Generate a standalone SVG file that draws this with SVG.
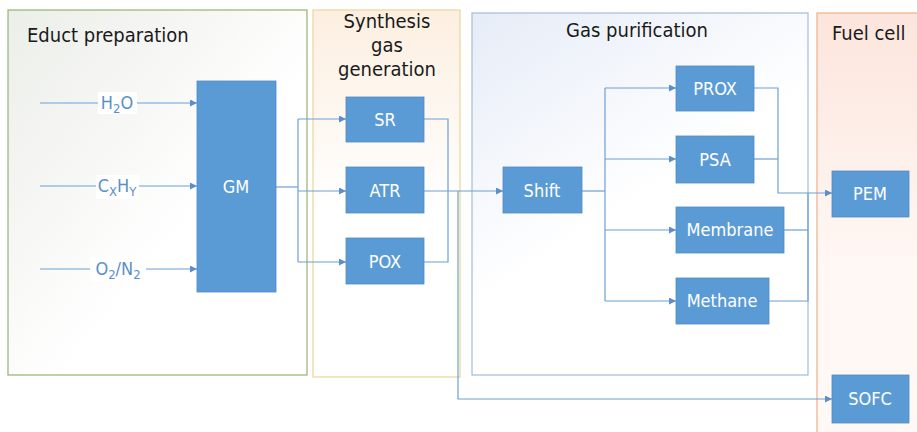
<svg xmlns="http://www.w3.org/2000/svg" width="917" height="432" viewBox="0 0 917 432">
  <defs>
    <linearGradient id="gEduct" x1="0" y1="0" x2="1" y2="1">
      <stop offset="0" stop-color="#eceee9"/>
      <stop offset="0.6" stop-color="#ffffff"/>
    </linearGradient>
    <linearGradient id="gSyn" x1="0" y1="0" x2="0" y2="1">
      <stop offset="0" stop-color="#fcefe0"/>
      <stop offset="0.55" stop-color="#ffffff"/>
    </linearGradient>
    <linearGradient id="gGas" x1="0" y1="0" x2="0.6" y2="1">
      <stop offset="0" stop-color="#e6ecf7"/>
      <stop offset="0.6" stop-color="#ffffff"/>
    </linearGradient>
    <linearGradient id="gFuel" x1="0" y1="0" x2="0" y2="1">
      <stop offset="0" stop-color="#fce5dc"/>
      <stop offset="0.6" stop-color="#fff8f5"/>
    </linearGradient>
    <marker id="arr" viewBox="0 0 10 10" refX="10" refY="5" markerWidth="7" markerHeight="7" markerUnits="userSpaceOnUse" orient="auto">
      <path d="M0,0 L10,5 L0,10 z" fill="#5b8fc9"/>
    </marker>
    <style>
      .title { font-family: "DejaVu Sans Condensed", "DejaVu Sans", sans-serif; font-size: 20px; fill: #1a1a1a; }
      .node rect { fill: #5b9bd5; stroke: #4f8bc4; stroke-width: 0.8; }
      .node text { font-family: "DejaVu Sans Condensed", "DejaVu Sans", sans-serif; font-size: 18px; fill: #ffffff; text-anchor: middle; dominant-baseline: central; }
      .conn path { fill: none; stroke: #6e9fd4; stroke-width: 1.2; }
      .lbl { font-family: "DejaVu Sans Condensed", "DejaVu Sans", sans-serif; font-size: 18px; fill: #5b8fc9; text-anchor: middle; }
      .sub { font-size: 13px; }
    </style>
  </defs>

  <rect width="917" height="432" fill="#ffffff"/>

  <!-- Area boxes -->
  <g id="area-educt">
    <rect x="8" y="10" width="299" height="365" fill="url(#gEduct)" stroke="#9cb97a" stroke-width="1.3"/>
    <text class="title" x="27" y="42">Educt preparation</text>
  </g>
  <g id="area-synthesis">
    <rect x="313" y="10" width="147" height="367" fill="url(#gSyn)" stroke="#ead9a0" stroke-width="1.3"/>
    <text class="title" x="387" y="28" text-anchor="middle">Synthesis</text>
    <text class="title" x="387" y="52" text-anchor="middle">gas</text>
    <text class="title" x="387" y="76" text-anchor="middle">generation</text>
  </g>
  <g id="area-gas">
    <rect x="472" y="13" width="336" height="362" fill="url(#gGas)" stroke="#a9c2de" stroke-width="1.3"/>
    <text class="title" x="637" y="37" text-anchor="middle">Gas purification</text>
  </g>
  <g id="area-fuel">
    <rect x="817" y="13" width="110" height="430" fill="url(#gFuel)" stroke="#efb592" stroke-width="1.3"/>
    <text class="title" x="832" y="40">Fuel cell</text>
  </g>

  <!-- Connectors -->
  <g id="connectors" class="conn">
    <path d="M40,103 H197" marker-end="url(#arr)"/>
    <path d="M40,186 H197" marker-end="url(#arr)"/>
    <path d="M40,269 H197" marker-end="url(#arr)"/>
    <path d="M276,187 H298"/>
    <path d="M298,119 V262"/>
    <path d="M298,119 H346" marker-end="url(#arr)"/>
    <path d="M298,191 H346" marker-end="url(#arr)"/>
    <path d="M298,262 H346" marker-end="url(#arr)"/>
    <path d="M424,119 H448 V262 H424"/>
    <path d="M424,191 H503" marker-end="url(#arr)"/>
    <path d="M458,191 V399 H832" marker-end="url(#arr)"/>
    <path d="M582,191 H605"/>
    <path d="M605,88 V301"/>
    <path d="M605,88 H676" marker-end="url(#arr)"/>
    <path d="M605,159 H676" marker-end="url(#arr)"/>
    <path d="M605,230 H676" marker-end="url(#arr)"/>
    <path d="M605,301 H676" marker-end="url(#arr)"/>
    <path d="M754,88 H778 V193 H832" marker-end="url(#arr)"/>
    <path d="M754,159 H778"/>
    <path d="M784,230 H808"/>
    <path d="M769,301 H808 V193"/>
  </g>

  <!-- Connector labels -->
  <g id="labels">
    <rect x="98" y="92" width="39" height="22" fill="#ffffff"/>
    <text class="lbl" x="117" y="109">H<tspan class="sub" dy="4">2</tspan><tspan dy="-4">O</tspan></text>
    <rect x="96" y="175" width="43" height="24" fill="#ffffff"/>
    <text class="lbl" x="117" y="192">C<tspan class="sub" dy="4">X</tspan><tspan dy="-4">H</tspan><tspan class="sub" dy="4">Y</tspan></text>
    <rect x="90" y="257" width="56" height="24" fill="#ffffff"/>
    <text class="lbl" x="118" y="275">O<tspan class="sub" dy="4">2</tspan><tspan dy="-4">/N</tspan><tspan class="sub" dy="4">2</tspan></text>
  </g>

  <!-- Nodes -->
  <g id="GM" class="node"><rect x="197" y="81" width="79" height="211"/><text x="236" y="186">GM</text></g>
  <g id="SR" class="node"><rect x="346" y="97" width="78" height="45"/><text x="385" y="119">SR</text></g>
  <g id="ATR" class="node"><rect x="346" y="167" width="78" height="46"/><text x="385" y="190">ATR</text></g>
  <g id="POX" class="node"><rect x="346" y="238" width="78" height="46"/><text x="385" y="261">POX</text></g>
  <g id="Shift" class="node"><rect x="503" y="167" width="79" height="46"/><text x="542" y="190">Shift</text></g>
  <g id="PROX" class="node"><rect x="676" y="66" width="78" height="45"/><text x="715" y="88">PROX</text></g>
  <g id="PSA" class="node"><rect x="676" y="136" width="78" height="47"/><text x="715" y="159">PSA</text></g>
  <g id="Membrane" class="node"><rect x="676" y="207" width="108" height="46"/><text x="730" y="229">Membrane</text></g>
  <g id="Methane" class="node"><rect x="676" y="278" width="93" height="46"/><text x="722" y="300">Methane</text></g>
  <g id="PEM" class="node"><rect x="832" y="171" width="77" height="46"/><text x="870" y="193">PEM</text></g>
  <g id="SOFC" class="node"><rect x="832" y="375" width="77" height="48"/><text x="870" y="398">SOFC</text></g>
</svg>
